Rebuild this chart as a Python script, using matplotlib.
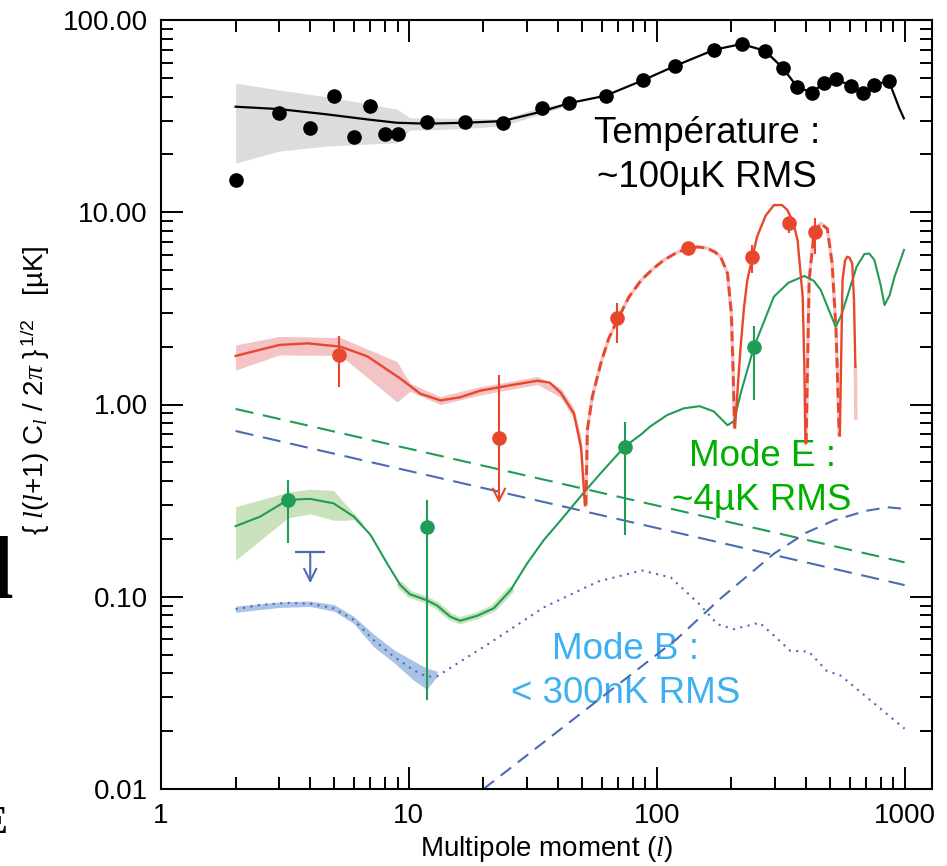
import matplotlib
matplotlib.use('Agg')
import matplotlib.pyplot as plt
from matplotlib.ticker import FormatStrFormatter, NullFormatter, LogLocator
import numpy as np

plt.rcParams['font.family'] = 'Liberation Sans'
plt.rcParams['mathtext.fontset'] = 'custom'
plt.rcParams['mathtext.rm'] = 'Liberation Sans'
plt.rcParams['mathtext.it'] = 'Liberation Serif:italic'

# ----- colours -----
c_red = '#e8472b'
c_pink = '#f3c3c5'
c_green = '#1f9d55'
c_lgreen = '#c9e2bb'
c_blue = '#4b6cb4'
c_lblue = '#a8c3e6'
c_gray = '#dcdcdc'

# ----- temperature (TT) -----
tt_line_l = [2, 3, 4.67, 6.8, 8.96, 11.8, 16.8, 23.9, 34, 44.2, 62.2, 88, 119, 171, 220, 273, 322,
             368, 422, 472, 529, 608, 678, 755, 863, 900, 950, 993]
tt_line_v = [35.4, 34.4, 32.3, 30.4, 29.2, 28.9, 29.2, 29.8, 33.3, 36.9, 40.4, 48.6, 57.8, 70.1, 75,
             69.2, 56.5, 45, 41.9, 46.9, 49.3, 45.4, 41.6, 45.9, 48.3, 42, 35, 30.8]
tt_band_l = [2, 3, 4.67, 8.96, 10.1, 11.8, 16.8, 23.9, 34, 45]
tt_band_hi = [47, 43.2, 39.9, 34.4, 31, 30.9, 30.8, 30.5, 35.2, 37.4]
tt_band_lo = [18, 20.8, 22.1, 23, 26.8, 26.8, 27.3, 28.1, 32.3, 36.4]
tt_pts_l = [2, 3, 4, 5, 6, 7, 8, 9, 11.8, 16.8, 23.9, 34.5, 44.2, 62.2, 88, 119, 171, 220, 273,
            322, 368, 422, 472, 529, 608, 678, 755, 863]
tt_pts_v = [14.8, 32.7, 27.5, 40.1, 24.5, 35.8, 25.6, 25.6, 29.4, 29.4, 29.2, 34.7, 36.9, 40.4,
            48.6, 57.8, 70.1, 75, 69.2, 56.5, 45, 41.9, 46.9, 49.3, 45.4, 41.6, 45.9, 48.3]

# ----- TE (solid = positive, dashed = negative) -----
te_pos1_l = [2, 3, 3.9, 5.3, 6.8, 9.2, 11.1, 13.4, 16.1, 19.4, 24.9, 33, 37, 41, 46.3, 49.5, 51.3]
te_pos1_v = [1.79, 2.04, 2.08, 2.0, 1.78, 1.37, 1.14, 1.05, 1.09, 1.18, 1.25, 1.33, 1.3, 1.15, 0.9, 0.6, 0.3]
te_band_l = [2, 3, 5.3, 8.96, 10.1, 13.4, 19.4, 24.9, 33, 41, 46.3, 49.5, 51.3]
te_band_hi = [2.04, 2.26, 2.23, 1.67, 1.29, 1.1, 1.24, 1.31, 1.4, 1.22, 0.96, 0.68, 0.38]
te_band_lo = [1.51, 1.81, 1.8, 1.03, 1.17, 1.0, 1.12, 1.19, 1.27, 1.09, 0.84, 0.52, 0.27]
te_neg1_l = [51.8, 52.5, 55, 59.5, 64, 69.4, 77, 86.6, 97, 107, 120, 133, 147, 160, 172, 181, 193,
             200, 203, 206]
te_neg1_v = [0.3, 0.74, 1.1, 1.64, 2.2, 2.75, 3.6, 4.44, 5.1, 5.65, 6.15, 6.5, 6.6, 6.5, 6.2, 5.87,
             4.81, 2.98, 1.6, 0.76]
te_pos2_l = [207, 212, 218, 225, 232, 254, 275, 297, 320, 336, 355, 370, 388, 394, 398]
te_pos2_v = [0.76, 1.2, 2.0, 3.2, 4.44, 7.46, 9.6, 10.9, 10.9, 10.3, 8.9, 7.17, 3.64, 1.6, 0.63]
te_neg2_l = [401, 405, 412, 431, 458, 488, 510, 529, 538, 545]
te_neg2_v = [0.63, 1.34, 4.44, 7.77, 8.75, 8.2, 5.42, 2.44, 1.2, 0.69]
te_pos3_l = [548, 555, 562, 575, 587, 600, 615, 625, 633]
te_pos3_v = [0.69, 1.8, 4.44, 5.6, 5.87, 5.8, 5.4, 3.5, 1.57]
te_tail_l = [633, 636]
te_tail_v = [1.57, 0.85]

te_pts_l = [5.24, 23.1, 69.4, 134, 243, 342, 434]
te_pts_v = [1.82, 0.667, 2.81, 6.5, 5.87, 8.75, 7.87]
te_pts_lo = [1.23, 0.667, 2.08, 6.5, 4.81, 7.77, 6.1]
te_pts_hi = [2.27, 1.42, 3.36, 6.5, 6.76, 9.48, 9.29]
te_lim_l = 23.1
te_lim_tip = 0.307

# ----- EE -----
ee_line_l = [2, 2.51, 3.25, 4, 4.97, 6, 7, 8.17, 9.24, 10.1, 11.8, 13, 14.7, 16.1, 18.9, 22, 25.7,
             30, 35, 41, 50, 59.4, 74.3, 86.6, 94.3, 110, 128.6, 149, 170, 193, 205, 218, 247, 297,
             340, 394, 430, 459, 500, 527, 555, 587, 640, 688, 720, 755, 800, 830, 870, 911, 995]
ee_line_v = [0.233, 0.261, 0.319, 0.323, 0.306, 0.261, 0.21, 0.149, 0.115, 0.103, 0.096, 0.090,
             0.0787, 0.075, 0.0797, 0.0871, 0.108, 0.149, 0.197, 0.25, 0.34, 0.439, 0.604, 0.70,
             0.77, 0.88, 0.955, 0.98, 0.92, 0.78, 0.82, 1.14, 2.0, 3.64, 4.3, 4.66, 4.4, 3.94, 3.0,
             2.54, 2.9, 3.64, 5.2, 6.06, 6.1, 5.65, 4.2, 3.29, 3.7, 4.62, 6.37]
ee_band_l = [2, 3.25, 4, 4.97, 5.5, 6.0, 6.5]
ee_band_hi = [0.294, 0.35, 0.363, 0.357, 0.307, 0.272, 0.243]
ee_band_lo = [0.155, 0.257, 0.27, 0.25, 0.25, 0.252, 0.228]
ee_halo_l = [9.24, 10.1, 11.8, 13, 14.7, 16.1, 18.9, 22, 25.7]
ee_halo_v = [0.115, 0.103, 0.096, 0.090, 0.0787, 0.075, 0.0797, 0.0871, 0.108]

ee_pts_l = [3.25, 11.8, 74.3, 247]
ee_pts_v = [0.319, 0.23, 0.604, 1.99]
ee_pts_lo = [0.191, 0.029, 0.21, 1.05]
ee_pts_hi = [0.405, 0.32, 0.81, 2.57]

# ----- BB -----
bb_line_l = [2, 2.51, 3.22, 4, 4.97, 6, 7.2, 8.7, 10.4, 11.8, 13, 21, 35, 58, 87, 114, 149, 176,
             205, 260, 303, 346, 410, 485, 554, 679, 1000]
bb_line_v = [0.0861, 0.0906, 0.093, 0.092, 0.0871, 0.0757, 0.0596, 0.0488, 0.0416, 0.0384, 0.0386,
             0.057, 0.088, 0.12, 0.137, 0.126, 0.0912, 0.0719, 0.0678, 0.0733, 0.0614, 0.0523,
             0.0519, 0.0412, 0.0388, 0.0312, 0.0206]
bb_band_l = [2, 3, 4, 5, 6, 7.2, 8.7, 10.4, 11.8, 13]
bb_band_hi = [0.0895, 0.094, 0.095, 0.091, 0.079, 0.064, 0.053, 0.0465, 0.0425, 0.041]
bb_band_lo = [0.083, 0.088, 0.089, 0.084, 0.0725, 0.055, 0.0455, 0.037, 0.033, 0.0385]
bb_lens_l = [20, 30, 50, 80, 120, 181, 240, 298, 400, 520, 700, 855, 984]
bb_lens_v = [0.01, 0.015, 0.025, 0.04, 0.06, 0.098, 0.133, 0.168, 0.215, 0.25, 0.28, 0.292, 0.287]
bb_lim_l = 4.0
bb_lim_v = 0.171
bb_lim_tip = 0.1175

# ----- foregrounds -----
fg_l = [2, 1000]
fg_e = [0.948, 0.151]
fg_b = [0.728, 0.115]


fig = plt.figure(figsize=(9.47, 8.66), dpi=100)
ax = fig.add_axes([161/947, 77/866, 771/947, 769/866])
ax.set_xscale('log')
ax.set_yscale('log')

# ----- bands -----
ax.fill_between(tt_band_l, tt_band_lo, tt_band_hi, color=c_gray, lw=0, zorder=1)
ax.fill_between(te_band_l, te_band_lo, te_band_hi, color=c_pink, lw=0, zorder=1)
ax.fill_between(ee_band_l, ee_band_lo, ee_band_hi, color=c_lgreen, lw=0, zorder=1)
ax.fill_between(bb_band_l, bb_band_lo, bb_band_hi, color=c_lblue, lw=0, zorder=1)
ax.plot(ee_halo_l, ee_halo_v, color=c_lgreen, lw=5, zorder=1, solid_capstyle='round')
for seg_l, seg_v in [(te_neg1_l, te_neg1_v), (te_neg2_l, te_neg2_v), (te_tail_l, te_tail_v)]:
    ax.plot(seg_l, seg_v, color=c_pink, lw=2.5, zorder=1)

# ----- texts -----
fs = 26.5
ax.text(159, 22.9, 'Température :', ha='center', va='baseline', fontsize=fs, color='black', zorder=1.5)
ax.text(159, 13.6, '~100µK RMS', ha='center', va='baseline', fontsize=fs, color='black', zorder=1.5)
ax.text(266, 0.481, 'Mode E :', ha='center', va='baseline', fontsize=fs, color='#00b000', zorder=1.5)
ax.text(266, 0.283, '~4µK RMS', ha='center', va='baseline', fontsize=fs, color='#00b000', zorder=1.5)
ax.text(75, 0.0475, 'Mode B :', ha='center', va='baseline', fontsize=fs, color='#3db0f2', zorder=1.5)
ax.text(75, 0.028, '< 300nK RMS', ha='center', va='baseline', fontsize=fs, color='#3db0f2', zorder=1.5)

# ----- curves -----
ax.plot(tt_line_l, tt_line_v, color='black', lw=1.6, zorder=2)
ax.plot(fg_l, fg_e, color=c_green, lw=1.5, dashes=(8.7, 4.7), zorder=2)
ax.plot(fg_l, fg_b, color=c_blue, lw=1.5, dashes=(8.7, 4.7), zorder=2)
ax.plot(bb_lens_l, bb_lens_v, color=c_blue, lw=1.5, dashes=(6.4, 4), zorder=2)
ax.plot(bb_line_l, bb_line_v, color=c_blue, lw=1.5, dashes=(1, 2.6), zorder=2)
ax.plot(ee_line_l, ee_line_v, color=c_green, lw=1.5, zorder=2)
for seg_l, seg_v in [(te_pos1_l, te_pos1_v), (te_pos2_l, te_pos2_v), (te_pos3_l, te_pos3_v)]:
    ax.plot(seg_l, seg_v, color=c_red, lw=1.7, zorder=2)
for seg_l, seg_v in [(te_neg1_l, te_neg1_v), (te_neg2_l, te_neg2_v)]:
    ax.plot(seg_l, seg_v, color=c_red, lw=2, dashes=(3.6, 1.8), zorder=2)

# ----- data points -----
ax.plot(tt_pts_l, tt_pts_v, 'o', color='black', ms=9.5, zorder=3)

te_v = np.array(te_pts_v)
ax.errorbar(te_pts_l, te_v, yerr=[te_v - np.array(te_pts_lo), np.array(te_pts_hi) - te_v],
            fmt='o', color=c_red, ms=9.5, elinewidth=1.5, capsize=0, zorder=3)
ax.annotate('', xy=(te_lim_l, te_lim_tip), xytext=(te_lim_l, te_pts_v[1]),
            arrowprops=dict(arrowstyle='->', color=c_red, lw=1.5, mutation_scale=22, shrinkA=0, shrinkB=0),
            zorder=3)

ee_v = np.array(ee_pts_v)
ax.errorbar(ee_pts_l, ee_v, yerr=[ee_v - np.array(ee_pts_lo), np.array(ee_pts_hi) - ee_v],
            fmt='o', color=c_green, ms=9.5, elinewidth=1.5, capsize=0, zorder=3)

ax.plot([bb_lim_l], [bb_lim_v], marker='_', ms=22, mew=1.6, color=c_blue, zorder=3)
ax.annotate('', xy=(bb_lim_l, bb_lim_tip), xytext=(bb_lim_l, bb_lim_v),
            arrowprops=dict(arrowstyle='->', color=c_blue, lw=1.5, mutation_scale=22, shrinkA=0, shrinkB=0),
            zorder=3)

# ----- axes -----
ax.set_xlim(1, 1290)
ax.set_ylim(0.01, 100)
ax.set_xticks([1, 10, 100, 1000])
ax.set_xticklabels(['1', '10', '100', '1000'])
ax.set_yticks([0.01, 0.1, 1, 10, 100])
ax.yaxis.set_major_formatter(FormatStrFormatter('%.2f'))
ax.xaxis.set_minor_locator(LogLocator(base=10, subs=np.arange(2, 10)))
ax.yaxis.set_minor_locator(LogLocator(base=10, subs=np.arange(2, 10)))
ax.xaxis.set_minor_formatter(NullFormatter())
ax.yaxis.set_minor_formatter(NullFormatter())
ax.tick_params(which='both', direction='in', top=True, right=True, width=1.4, labelsize=20)
ax.tick_params(which='major', length=16)
ax.tick_params(which='minor', length=8.5)
ax.tick_params(axis='y', pad=9.5)
ax.tick_params(axis='x', pad=10)
for sp in ax.spines.values():
    sp.set_linewidth(1.5)

ax.set_xlabel('Multipole moment ($l$)', fontsize=20)
ax.set_ylabel(r'{ $l$($l$+1) C$_l$ / 2$\pi$ }$^{\,1/2}$   [µK]', fontsize=20)
ax.xaxis.set_label_coords(0.5, -0.058)
ax.yaxis.set_label_coords(-0.141, 0.518)

# ----- fragments of the slide cut at the left edge -----
fig.text(13/947, 1 - 598/866, 'l', ha='right', va='baseline', fontsize=64,
         fontfamily='Liberation Serif', fontweight='bold')
fig.text(7/947, 1 - 833/866, 'E', ha='right', va='baseline', fontsize=28,
         fontfamily='Liberation Serif', fontweight='bold')

fig.savefig('out.png', dpi=100)
